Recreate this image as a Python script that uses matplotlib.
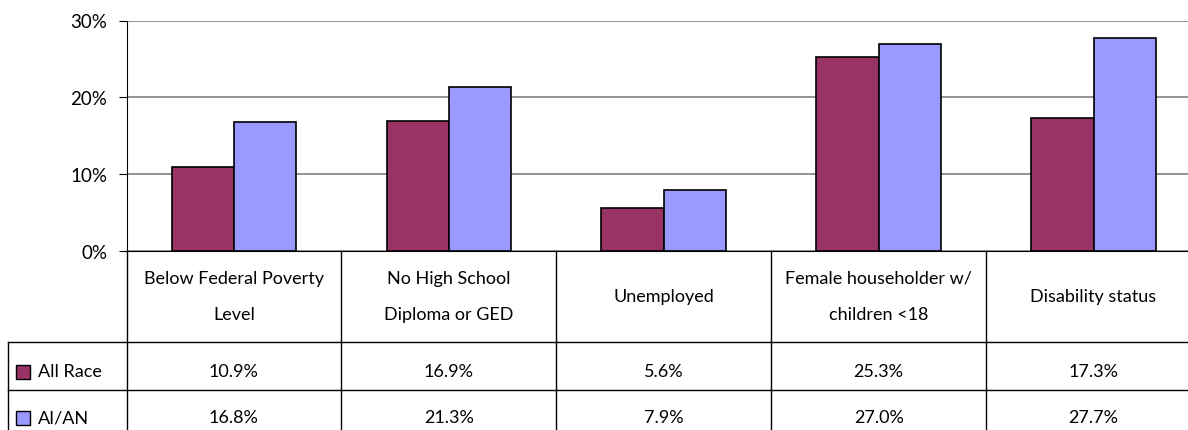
import matplotlib
matplotlib.use("Agg")
import matplotlib.pyplot as plt
from matplotlib.patches import Rectangle
from matplotlib.lines import Line2D
import numpy as np

categories = ["Below Federal Poverty\nLevel", "No High School\nDiploma or GED", "Unemployed",
              "Female householder w/\nchildren <18", "Disability status"]
series_names = ["All Race", "AI/AN"]
all_race = [10.9, 16.9, 5.6, 25.3, 17.3]
ai_an = [16.8, 21.3, 7.9, 27.0, 27.7]
colors = ["#993366", "#9999FF"]
yticks = [0, 10, 20, 30]

W, H = 1188, 431
plt.rcParams['font.family'] = ['Lato', 'DejaVu Sans']
fig = plt.figure(figsize=(W / 100, H / 100), dpi=100)

def fx(px):
    return px / W

def fy(py):
    return 1 - py / H

x0, x1 = 126.5, 1201
ytop, ybot = 21.5, 252
ax = fig.add_axes([fx(x0), fy(ybot), fx(x1) - fx(x0), (ybot - ytop) / H])
n = len(categories)
x = np.arange(n)
bw = 0.29
ax.bar(x - bw / 2, all_race, bw, color=colors[0], edgecolor="black", linewidth=1.2, zorder=3)
ax.bar(x + bw / 2, ai_an, bw, color=colors[1], edgecolor="black", linewidth=1.2, zorder=3)
ax.set_xlim(-0.5, n - 0.5)
ax.set_ylim(0, 30)
ax.set_yticks(yticks)
ax.set_yticklabels([f"{v}%" for v in yticks], fontsize=13.5)
ax.yaxis.grid(True, color="#808080", linewidth=1.2, zorder=0)
ax.set_xticks([])
for s in ["top", "right"]:
    ax.spines[s].set_visible(False)
ax.spines["left"].set_color("black")
ax.spines["bottom"].set_color("black")
ax.tick_params(axis="y", length=6, color="black", pad=8)

# Table
header_bot = 343
row1_bot = 391
row2_bot = 439
label_left = 8
line_kw = dict(color="black", linewidth=1, transform=fig.transFigure)

def data_x_to_px(xv):
    return x0 + (xv + 0.5) / n * (x1 - x0)

bounds = [data_x_to_px(i - 0.5) for i in range(n + 1)]
for b in bounds:
    fig.add_artist(Line2D([fx(b), fx(b)], [fy(ybot), fy(row2_bot)], **line_kw))
fig.add_artist(Line2D([fx(label_left), fx(label_left)], [fy(header_bot), fy(row2_bot)], **line_kw))
for yy in (header_bot, row1_bot, row2_bot):
    fig.add_artist(Line2D([fx(label_left), fx(x1)], [fy(yy), fy(yy)], **line_kw))

fs = 13
for i, c in enumerate(categories):
    cx = data_x_to_px(i)
    fig.text(fx(cx), fy(297), c, ha="center", va="center",
             fontsize=fs, linespacing=2.55)

rows = [all_race, ai_an]
centers = [372.5, 418.5]
for r, (name, vals) in enumerate(zip(series_names, rows)):
    cy = centers[r]
    fig.add_artist(Rectangle((fx(16), fy(cy + 7)), fx(14), 14 / H, facecolor=colors[r],
                             edgecolor="black", linewidth=1, transform=fig.transFigure))
    fig.text(fx(38), fy(cy), name, ha="left", va="center", fontsize=fs)
    for i, v in enumerate(vals):
        fig.text(fx(data_x_to_px(i)), fy(cy), f"{v:.1f}%", ha="center", va="center", fontsize=fs)

fig.savefig("out.png", dpi=100)
